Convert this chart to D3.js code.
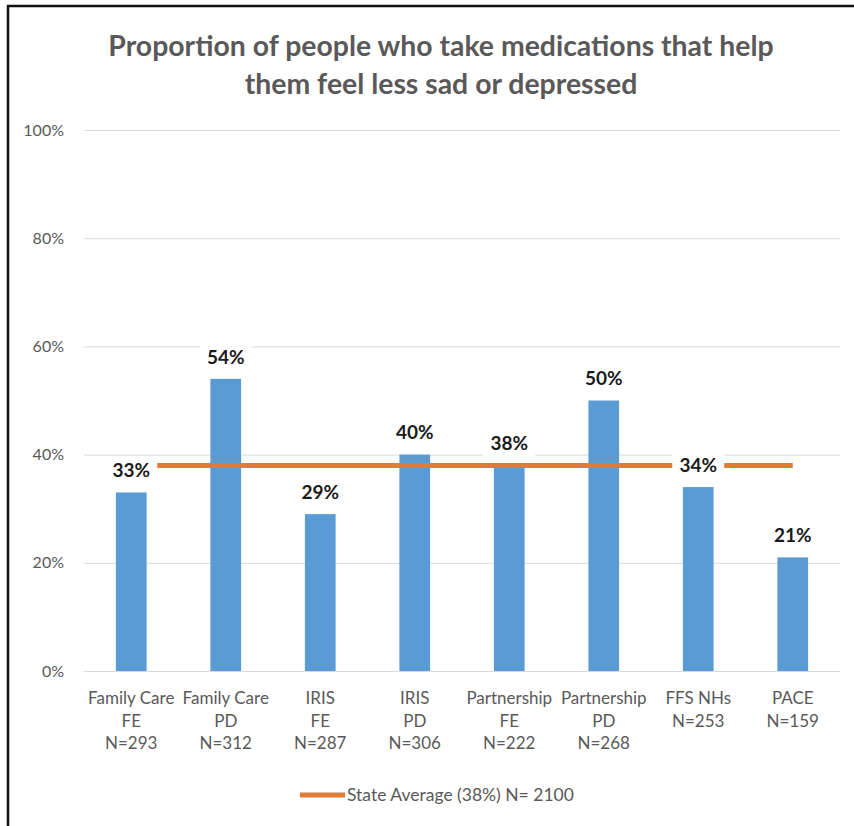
<!DOCTYPE html>
<html>
<head>
<meta charset="utf-8">
<script src="https://cdn.jsdelivr.net/npm/d3@7"></script>
<style>
  html, body { margin: 0; padding: 0; background: #ffffff; }
  svg { display: block; }
  text { font-family: Lato, "Open Sans", sans-serif; }
</style>
</head>
<body>
<svg id="chart" width="854" height="826"></svg>
<script>
// Programme groups shown along the x axis (one entry per text line)
const categories = [
  ["Family Care", "FE", "N=293"],
  ["Family Care", "PD", "N=312"],
  ["IRIS", "FE", "N=287"],
  ["IRIS", "PD", "N=306"],
  ["Partnership", "FE", "N=222"],
  ["Partnership", "PD", "N=268"],
  ["FFS NHs", "N=253"],
  ["PACE", "N=159"]
];
// Share of people taking medications that help them feel less sad or depressed
const values = [0.33, 0.54, 0.29, 0.40, 0.38, 0.50, 0.34, 0.21];
// Statewide average, drawn as a reference line across all groups
const stateAverage = 0.38;
const legendLabel = "State Average (38%) N= 2100";
const yTicks = [0, 0.2, 0.4, 0.6, 0.8, 1.0];
const titleLines = [
  "Proportion of people who take medications that help",
  "them feel less sad or depressed"
];

const svg = d3.select("#chart");
const plot = { left: 84, right: 840, top: 130, bottom: 671 };

const x = d3.scaleBand()
  .domain(d3.range(categories.length))
  .range([plot.left, plot.right])
  .paddingInner(0.675)
  .paddingOuter(0.3375);

const y = d3.scaleLinear().domain([0, 1]).range([plot.bottom, plot.top]);
const pct = d3.format(".0%");

// Frame
svg.append("line").attr("x1", 8).attr("x2", 8).attr("y1", 5).attr("y2", 826)
  .attr("stroke", "#111").attr("stroke-width", 2.5);
svg.append("line").attr("x1", 7).attr("x2", 854).attr("y1", 6).attr("y2", 6)
  .attr("stroke", "#111").attr("stroke-width", 2.5);

// Title
const title = svg.append("g").attr("fill", "#595959")
  .attr("font-weight", 700).attr("text-anchor", "middle");
title.selectAll("text").data(titleLines).join("text")
  .attr("x", 441).attr("y", (d, i) => 56 + i * 38)
  .attr("font-size", 28.4)
  .text(d => d);

// Gridlines and y axis labels
const yAxis = d3.axisLeft(y).tickValues(yTicks).tickFormat(pct)
  .tickSize(-(plot.right - plot.left)).tickPadding(20);
const gy = svg.append("g").attr("transform", `translate(${plot.left},0)`).call(yAxis);
gy.select(".domain").remove();
gy.selectAll(".tick line").attr("stroke", "#d9d9d9").attr("stroke-width", 1);
gy.selectAll(".tick text").attr("fill", "#595959").attr("font-size", 16)
  .attr("font-family", "Lato, sans-serif");

// Bars
svg.append("g").selectAll("rect").data(values).join("rect")
  .attr("x", (d, i) => x(i))
  .attr("width", x.bandwidth())
  .attr("y", d => y(d))
  .attr("height", d => y(0) - y(d))
  .attr("fill", "#5b9bd5");

// State average line from first to last category centre
const cx = i => x(i) + x.bandwidth() / 2;
svg.append("line")
  .attr("x1", cx(0)).attr("x2", cx(categories.length - 1))
  .attr("y1", y(stateAverage)).attr("y2", y(stateAverage))
  .attr("stroke", "#e07b39").attr("stroke-width", 5);

// Value labels on white boxes
const labels = svg.append("g").selectAll("g").data(values).join("g")
  .attr("transform", (d, i) => `translate(${cx(i)},${y(d) - 22})`);
labels.append("rect")
  .attr("x", -26).attr("y", -14).attr("width", 52).attr("height", 28)
  .attr("fill", "#ffffff");
labels.append("text")
  .attr("text-anchor", "middle").attr("dy", "0.36em")
  .attr("font-size", 19).attr("font-weight", 700).attr("fill", "#1a1a1a")
  .text(d => pct(d));

// Category labels
const cats = svg.append("g").selectAll("text").data(categories).join("text")
  .attr("text-anchor", "middle").attr("fill", "#595959").attr("font-size", 17);
cats.each(function(lines, i) {
  d3.select(this).selectAll("tspan").data(lines).join("tspan")
    .attr("x", cx(i)).attr("y", (d, j) => 704 + j * 22.5)
    .text(d => d);
});

// Legend
const legend = svg.append("g");
legend.append("line").attr("x1", 300).attr("x2", 345).attr("y1", 795).attr("y2", 795)
  .attr("stroke", "#e07b39").attr("stroke-width", 5);
legend.append("text").attr("x", 347).attr("y", 801).attr("fill", "#595959")
  .attr("font-size", 17.5).text(legendLabel);
</script>
</body>
</html>
